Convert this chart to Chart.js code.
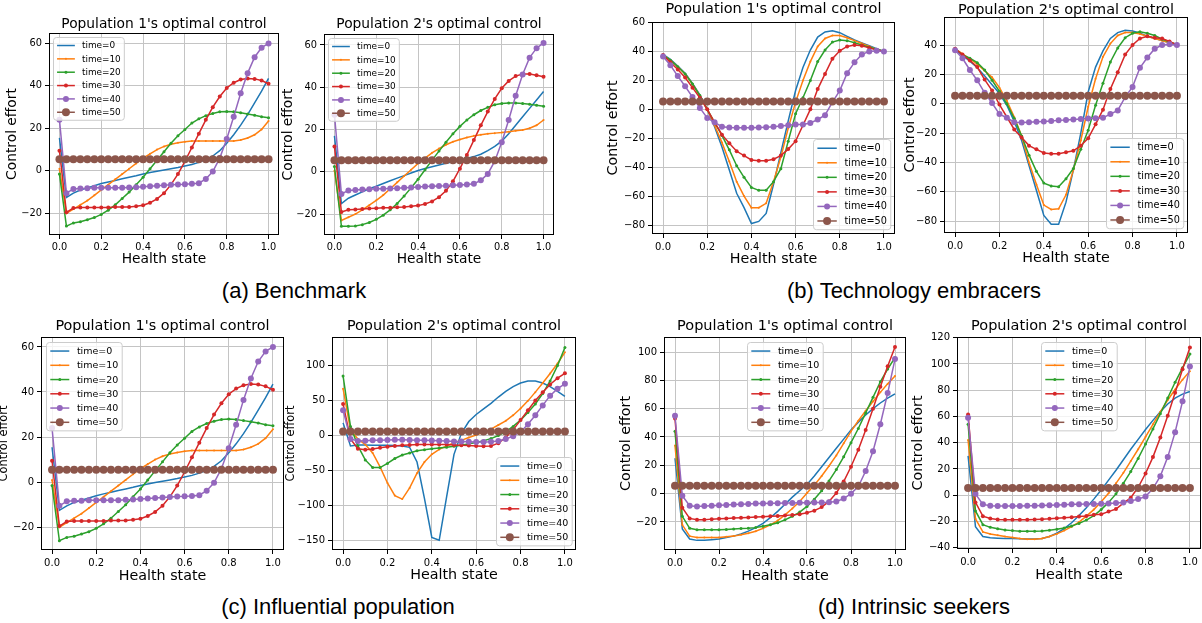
<!DOCTYPE html>
<html>
<head>
<meta charset="utf-8">
<script src="https://cdn.jsdelivr.net/npm/chart.js@4.4.1/dist/chart.umd.min.js"></script>
<style>
  html, body { margin: 0; padding: 0; background: #fff; width: 1202px; height: 623px; overflow: hidden; }
  canvas { position: absolute; }
  .cap { position: absolute; font-family: "Liberation Sans", Arial, sans-serif; font-size: 22px; color: #000;
         white-space: nowrap; transform: translate(-50%, -50%); }
</style>
</head>
<body>
<div class="cap" style="left:294px; top:291px">(a) Benchmark</div>
<div class="cap" style="left:914px; top:291px">(b) Technology embracers</div>
<div class="cap" style="left:338px; top:607px">(c) Influential population</div>
<div class="cap" style="left:914px; top:607px">(d) Intrinsic seekers</div>
<script>
// health state grid (x axis), 31 points
const healthStates = [0, 0.0333, 0.0667, 0.1, 0.1333, 0.1667, 0.2, 0.2333, 0.2667, 0.3, 0.3333,
  0.3667, 0.4, 0.4333, 0.4667, 0.5, 0.5333, 0.5667, 0.6, 0.6333, 0.6667, 0.7, 0.7333, 0.7667,
  0.8, 0.8333, 0.8667, 0.9, 0.9333, 0.9667, 1.0];
const timeLabels = ['time=0', 'time=10', 'time=20', 'time=30', 'time=40', 'time=50'];
const xTicks = [0, 0.2, 0.4, 0.6, 0.8, 1.0];

// time=50 is flat in every panel
const time50 = [5.5, 5.5, 5.5, 5.5, 5.5, 5.5, 5.5, 5.5, 5.5, 5.5, 5.5, 5.5, 5.5, 5.5, 5.5, 5.5,
  5.5, 5.5, 5.5, 5.5, 5.5, 5.5, 5.5, 5.5, 5.5, 5.5, 5.5, 5.5, 5.5, 5.5, 5.5];

// (a) Benchmark, population 1  (rows: time=0,10,20,30,40)
const benchP1 = [
  [15.5, -12.5, -10.5, -9, -8, -7, -6, -5.2, -4.5, -3.7, -3, -2.3, -1.5, -0.8, -0.2, 0.4, 1, 1.6, 2.3, 3, 4, 5.3, 7, 9.5, 13, 17, 21.5, 26.5, 32, 37.5, 43.5],
  [1, -20, -18, -16, -14, -11.5, -9, -6.5, -4, -1.5, 1, 3.5, 6, 8, 10, 11.5, 12.5, 13.2, 13.7, 14, 14, 14, 14, 14, 14, 14, 14.5, 15.5, 17, 19.5, 23.5],
  [-1.5, -26, -24.5, -24, -23, -22, -20.5, -18.5, -16, -13, -10, -6.5, -3, 1, 5, 9, 13, 16.5, 19.5, 22.5, 24.5, 26, 27, 27.8, 28, 27.8, 27.3, 26.8, 26.2, 25.5, 25],
  [9.5, -19.5, -17.5, -17.2, -17.2, -17.2, -17.2, -17.2, -17, -17, -17, -16.7, -16.2, -15, -13.2, -10.5, -6.5, -1.5, 4.5, 11, 17.5, 24, 30, 35, 39, 41.5, 43, 43.5, 43.3, 42.5, 41],
  [24, -10.5, -8.5, -8.3, -8.2, -8, -8, -8, -8, -8, -7.8, -7.7, -7.5, -7.3, -7, -6.8, -6.6, -6.4, -6.3, -6.1, -5.8, -3.8, -0.3, 6, 15, 25.5, 36.5, 46, 53.5, 58, 60]
];
// (a) Benchmark, population 2
const benchP2 = [
  [17, -15, -12.5, -11, -9.5, -8, -6.8, -5.5, -4.2, -3, -1.8, -0.6, 0.6, 1.6, 2.4, 3.2, 4, 4.7, 5.5, 6.3, 7.2, 8.3, 10, 12, 14.5, 18, 22, 26, 30, 34, 38],
  [0.5, -23, -21.5, -20, -18, -15.8, -13.5, -11, -8, -5, -2, 1, 4, 6.5, 9, 11, 12.8, 14.2, 15.3, 16.2, 17, 17.5, 18, 18.3, 18.6, 19, 19.4, 19.8, 20.6, 22, 24.5],
  [2.5, -25.8, -25.8, -25.6, -25, -24, -22.5, -20.5, -18, -15, -11.5, -7.5, -3.5, 1, 5.5, 9.8, 14, 18, 21.5, 24.5, 27, 29, 30.5, 31.7, 32.3, 32.6, 32.6, 32.3, 32, 31.5, 31],
  [12, -19, -18, -17.8, -17.6, -17.4, -17.2, -17, -17, -16.8, -16.6, -16.3, -16, -15.2, -14, -12, -9, -4.5, 1.5, 8, 15, 22, 28.5, 34.5, 39.5, 43, 45.3, 46.3, 46.3, 45.7, 45],
  [27, -10.5, -8.8, -8.6, -8.4, -8.2, -8, -8, -7.9, -7.8, -7.6, -7.4, -7.2, -7, -6.8, -6.7, -6.6, -6.4, -6.2, -6, -5.7, -4, -1, 5, 14, 24.5, 36, 46, 54, 58.5, 61]
];
// (b) Technology embracers, population 1
const techP1 = [
  [38, 34.5, 30, 25, 18, 10, 0, -12, -26, -42, -58, -68, -79, -77.5, -72, -52, -30, -8, 13, 29, 41, 50, 53.5, 54.3, 53, 50.5, 48, 46, 44, 42, 40],
  [37.5, 34, 29.5, 24.5, 17.5, 9.5, 0, -11, -23, -36, -50, -60, -68, -68, -65, -50, -33, -13, 5, 20, 33, 43.5, 49, 51, 51, 49.5, 47.5, 45.5, 43.5, 41.5, 40],
  [37.5, 34, 29.5, 24.5, 17.5, 9.5, 0, -9, -18, -28, -39, -47, -54, -56, -56, -50, -41, -22, -3, 8, 20, 33, 41, 46.5, 48, 47.5, 46, 44.5, 43, 41.5, 40],
  [37.5, 32.5, 27.5, 22, 15, 8, 0, -9, -17.5, -23.5, -29, -32, -35, -35.5, -35.5, -34.5, -32, -27.5, -22, -11, 0, 14, 24.5, 35, 40.5, 43.5, 44.5, 44, 42.5, 41, 40],
  [36.5, 30.5, 23, 16, 8.5, 1, -6, -9, -12, -12.5, -12.7, -12.7, -12.7, -12.5, -12.3, -12, -11.5, -11, -10.5, -10.5, -9.5, -7, -4, 5, 13, 25, 32.5, 38, 40, 40.5, 40]
];
// (b) Technology embracers, population 2
const techP2 = [
  [37, 33, 29, 24.5, 19, 13, 7, -1, -12, -25, -42, -59, -76, -82, -82, -67, -45, -20, 8, 25, 36, 44.5, 48.5, 50, 49.5, 48, 46, 44.5, 43, 41.5, 40],
  [37.5, 34, 30.5, 27, 22.5, 18, 11, 2, -9, -22, -40, -55, -69, -72, -71.5, -62, -45, -25, -2, 17, 32, 41, 46.5, 48.5, 48.5, 47.5, 46, 44.5, 43, 41.5, 40.5],
  [37.5, 33.5, 31, 28, 23, 16, 8.5, 0, -10, -22, -35, -46, -54, -56, -56.5, -51, -44, -31, -18, -1, 14, 28.5, 38, 45, 48, 49, 48, 46.5, 44, 42, 40.5],
  [37.5, 33.5, 29.5, 25, 16.5, 9, -0.5, -9, -17.5, -23, -28.5, -31, -33.5, -34, -34, -33, -32, -28.5, -23.5, -14, -4, 10, 21.5, 33.5, 40, 44.5, 46, 45, 44.5, 42.5, 40],
  [36.5, 31, 23, 16, 7.5, 0.5, -7, -9.5, -12.5, -12.7, -12.5, -12.3, -12, -11.7, -11.3, -11, -10.7, -10.4, -10, -9.8, -9.5, -7, -4.5, 4.5, 11.5, 24.5, 31.5, 37.5, 40, 40.5, 40]
];
// (c) Influential population: population 1 is the same as the benchmark
const inflP1 = benchP1;
const inflP2 = [
  [18, -15, -13.5, -13.5, -14, -14, -14, -14.5, -15, -17, -38, -90, -146, -150, -88, -27, 3, 20, 30, 38, 46, 55, 63, 70, 75, 78, 78, 75, 70, 63, 56],
  [67, 8, -5, -13, -25, -45, -68, -86, -91, -75, -54, -38, -27, -20, -15, -10.5, -7, -3, 0.5, 4.8, 9, 15, 21, 29, 38.5, 49.5, 62, 75, 88.6, 103, 119],
  [85, 13, -15, -35, -46, -46, -40, -33, -28, -25, -22, -20.5, -19, -18, -17, -15.5, -14, -12, -10, -7.5, -4.5, 0, 5.5, 13, 22, 33, 45, 60, 78, 100, 126],
  [45, -5, -19, -20.5, -19.5, -17.5, -16, -15, -14, -13.5, -13, -13, -13, -13, -13, -13.5, -14, -14.5, -15, -15.5, -15, -11, -3, 8, 22, 36, 50, 62, 73, 82, 89],
  [36, -5, -8, -7.5, -7, -6.8, -6.5, -6.3, -6.3, -6.5, -6.7, -7, -7.3, -7.7, -8, -8.5, -8.8, -9, -9.3, -9.5, -9, -8, -5, -1, 5, 16, 29, 43, 57, 67, 74]
];
// (d) Intrinsic seekers
const intrP1 = [
  [25, -25, -32, -33, -33, -32.5, -32, -31, -30, -28.5, -26.5, -24, -21, -17, -12.5, -7.5, -2.5, 2, 6.5, 12.5, 19, 25.5, 32, 38.5, 45, 50.5, 55.5, 60, 64, 67.5, 70.5],
  [34, -22, -30, -31, -31, -31, -31, -30.5, -30, -29, -28, -26.5, -24.5, -22, -19, -15, -10.5, -5.5, 0.5, 6, 12.5, 19.5, 27, 35.5, 44, 51.5, 58.5, 65, 71.5, 77.5, 83],
  [44, -16, -24.5, -25.5, -25.5, -25.5, -25.5, -25.3, -25, -24.7, -24.5, -24, -23, -22, -20.5, -18.5, -16, -13, -9, -4, 2, 9, 17, 26, 36, 46, 57, 68, 79, 88, 96],
  [53, -10, -17.5, -18.5, -18.5, -18, -17.7, -17.5, -17.2, -17, -16.8, -16.5, -16.3, -16, -15.8, -15.5, -15, -14.5, -13.5, -12, -9.5, -5.5, 0.5, 8.5, 19, 31, 45, 60, 75.5, 90, 103.5],
  [55, -1.5, -8.5, -9, -8.8, -8.5, -8.2, -8, -7.7, -7.5, -7.3, -7, -7, -6.8, -6.8, -6.7, -6.6, -6.5, -6.4, -6.3, -6.2, -6, -5.5, -3.5, 0, 5, 16, 30, 49, 71, 95]
];
const intrP2 = [
  [30, -24, -31.5, -32.5, -32.8, -33, -33, -33.2, -33.3, -33.3, -33, -31.5, -29, -25.5, -21, -15.5, -9.5, -3, 4, 11.5, 19, 27, 35, 42.5, 50, 57, 63.5, 69.5, 74, 77, 79],
  [42, -18, -28, -29.5, -30.5, -31.5, -32.3, -33, -33.5, -33.5, -33, -31.5, -29.5, -27, -24, -20.5, -16, -11, -5, 1.5, 9, 17, 26, 35, 44.5, 54, 63.5, 72.5, 80.5, 88, 94.5],
  [54, -12, -22.5, -24.5, -25.5, -26.5, -27, -27.5, -27.5, -27.5, -27.3, -26.8, -26, -25, -23.5, -21.5, -19, -15.5, -11, -5.5, 1, 9, 18, 28, 39, 50.5, 62, 74, 86, 97, 107.5],
  [61.5, -5.5, -16, -17.8, -18.5, -18.7, -18.8, -18.8, -18.7, -18.5, -18.3, -18, -17.5, -17.2, -16.8, -16.3, -15.8, -15, -14.5, -12.5, -10.5, -6, -2, 6, 16.5, 29, 44, 60.5, 78, 96, 112.5],
  [59, 1, -7, -8, -8.3, -8.3, -8.3, -8.2, -8, -8, -7.8, -7.6, -7.4, -7.2, -7, -7, -6.8, -6.7, -6.5, -6.3, -6, -5.5, -4.5, -3, -1, 5, 14.5, 29, 48, 71.5, 98]
];

// y tick labels per panel
const yTicksBench = [-20, 0, 20, 40, 60];
const yTicksTech1 = [-80, -60, -40, -20, 0, 20, 40, 60];
const yTicksTech2 = [-80, -60, -40, -20, 0, 20, 40];
const yTicksInfl2 = [-150, -100, -50, 0, 50, 100];
const yTicksIntr1 = [-20, 0, 20, 40, 60, 80, 100];
const yTicksIntr2 = [-40, -20, 0, 20, 40, 60, 80, 100, 120];

const colors = ['#1f77b4', '#ff7f0e', '#2ca02c', '#d62728', '#9467bd', '#8c564b'];
const markerR = [0, 1, 1.5, 2, 3, 4];

// layout: plot rect [left, top, right, bottom] in page px, text anchors in page px
const fsA = { title: 13.8, xlab: 13.8, ylab: 13.8, tick: 9.8, legend: 8.9 };
const fsB = { title: 14.5, xlab: 14.3, ylab: 14.3, tick: 10, legend: 9.7 };
const fsC = { title: 14.4, xlab: 14.3, ylab: 11.4, tick: 10, legend: 9.5 };
const fsD = { title: 14.5, xlab: 14.3, ylab: 14.3, tick: 10, legend: 9.5 };
const panels = [
  { title: "Population 1's optimal control", rows: benchP1, yr: [-30.2, 64.9], yt: yTicksBench,
    plot: [49, 33, 279, 235], titleY: 24.3, xlabY: 259.3, ylabX: 12.7, leg: 'ul', fs: fsA },
  { title: "Population 2's optimal control", rows: benchP2, yr: [-29.9, 65.2], yt: yTicksBench,
    plot: [324, 34, 554, 235], titleY: 24, xlabY: 259.3, ylabX: 288.3, leg: 'ul', fs: fsA },
  { title: "Population 1's optimal control", rows: techP1, yr: [-86.2, 60.4], yt: yTicksTech1,
    plot: [652, 22, 895, 234], titleY: 9.3, xlabY: 259.3, ylabX: 613.3, leg: 'lr', fs: fsB },
  { title: "Population 2's optimal control", rows: techP2, yr: [-88, 59.1], yt: yTicksTech2,
    plot: [944, 17, 1188, 233], titleY: 10, xlabY: 258.3, ylabX: 910, leg: 'lr', fs: fsB },
  { title: "Population 1's optimal control", rows: inflP1, yr: [-30.1, 64.4], yt: yTicksBench,
    plot: [41, 337, 284, 550], titleY: 326, xlabY: 576.7, ylabX: 4.5, leg: 'ul', fs: fsC },
  { title: "Population 2's optimal control", rows: inflP2, yr: [-163.9, 140.9], yt: yTicksInfl2,
    plot: [332, 337, 576, 550], titleY: 326, xlabY: 575, ylabX: 291, leg: 'lr', fs: fsC },
  { title: "Population 1's optimal control", rows: intrP1, yr: [-39.8, 110.6], yt: yTicksIntr1,
    plot: [664, 337, 906, 550], titleY: 326.7, xlabY: 576.7, ylabX: 626.7, leg: 'uc', fs: fsD },
  { title: "Population 2's optimal control", rows: intrP2, yr: [-41, 120.5], yt: yTicksIntr2,
    plot: [957, 337, 1201, 549], titleY: 326.7, xlabY: 575.7, ylabX: 918.3, leg: 'uc', fs: fsD }
];

const FONT = '"DejaVu Sans", sans-serif';

const decor = {
  id: 'decor',
  afterDatasetsDraw(chart, args, o) {
    const ctx = chart.ctx, a = chart.chartArea;
    ctx.save();
    // axes frame
    ctx.strokeStyle = '#000';
    ctx.lineWidth = 1;
    ctx.strokeRect(a.left + 0.5, a.top + 0.5, a.right - a.left - 1, a.bottom - a.top - 1);
    // legend
    const f = o.fs.legend;
    ctx.font = f + 'px ' + FONT;
    const tw = Math.max(...timeLabels.map(t => ctx.measureText(t).width));
    const bw = 3.6 * f + tw, bh = 9.3 * f, gap = 0.5 * f;
    let bx, by;
    if (o.leg === 'ul') { bx = a.left + gap; by = a.top + gap; }
    else if (o.leg === 'lr') { bx = a.right - gap - bw; by = a.bottom - gap - bh; }
    else { bx = (a.left + a.right) / 2 - bw / 2; by = a.top + gap; }
    bx = Math.round(bx) + 0.5; by = Math.round(by) + 0.5;
    ctx.beginPath();
    ctx.roundRect(bx, by, bw, bh, 3);
    ctx.fillStyle = 'rgba(255,255,255,0.8)';
    ctx.fill();
    ctx.strokeStyle = '#cccccc';
    ctx.stroke();
    ctx.textBaseline = 'middle';
    ctx.textAlign = 'left';
    timeLabels.forEach((t, i) => {
      const cy = by + 0.4 * f + i * 1.5 * f + 0.5 * f;
      ctx.strokeStyle = colors[i];
      ctx.lineWidth = 1.5;
      ctx.beginPath();
      ctx.moveTo(bx + 0.4 * f, cy);
      ctx.lineTo(bx + 2.4 * f, cy);
      ctx.stroke();
      if (markerR[i] > 0) {
        ctx.fillStyle = colors[i];
        ctx.beginPath();
        ctx.arc(bx + 1.4 * f, cy, markerR[i], 0, Math.PI * 2);
        ctx.fill();
      }
      ctx.fillStyle = '#000';
      ctx.fillText(t, bx + 3.2 * f, cy + 0.5);
    });
    ctx.restore();
  },
  afterDraw(chart, args, o) {
    const ctx = chart.ctx, a = chart.chartArea;
    const cx = (a.left + a.right) / 2, cy = (a.top + a.bottom) / 2;
    ctx.save();
    ctx.fillStyle = '#000';
    ctx.textAlign = 'center';
    ctx.textBaseline = 'middle';
    ctx.font = o.fs.title + 'px ' + FONT;
    ctx.fillText(o.title, cx, o.titleY - o.oy);
    ctx.font = o.fs.xlab + 'px ' + FONT;
    ctx.fillText('Health state', cx, o.xlabY - o.oy);
    ctx.font = o.fs.ylab + 'px ' + FONT;
    ctx.translate(o.ylabX - o.ox, cy);
    ctx.rotate(-Math.PI / 2);
    ctx.fillText('Control effort', 0, 0);
    ctx.restore();
  }
};

const padL = 56, padT = 30, padR = 8, padB = 44;
const fmt = v => (v < 0 ? '\u2212' : '') + Math.abs(v);

panels.forEach(p => {
  const [L, T, R, B] = p.plot;
  const cv = document.createElement('canvas');
  cv.width = R - L + padL + padR;
  cv.height = B - T + padT + padB;
  const ox = L - padL, oy = T - padT;
  cv.style.left = ox + 'px';
  cv.style.top = oy + 'px';
  document.body.appendChild(cv);

  const datasets = timeLabels.map((lab, i) => {
    const ys = i < 5 ? p.rows[i] : time50;
    return {
      label: lab,
      data: ys.map((y, j) => ({ x: healthStates[j], y: y })),
      borderColor: colors[i],
      backgroundColor: colors[i],
      pointBackgroundColor: colors[i],
      borderWidth: 1.5,
      pointRadius: markerR[i],
      pointBorderWidth: 0,
      pointHoverRadius: 0,
      fill: false,
      order: 5 - i
    };
  });

  const gridOpts = { color: '#c4c4c4', lineWidth: 1, tickColor: '#000', tickLength: 4, tickWidth: 1 };
  new Chart(cv, {
    type: 'line',
    data: { datasets },
    options: {
      responsive: false,
      animation: false,
      devicePixelRatio: 1,
      events: [],
      layout: { padding: { left: 0, top: padT, right: padR, bottom: 0 } },
      plugins: {
        legend: { display: false },
        tooltip: { enabled: false },
        decor: { title: p.title, titleY: p.titleY, xlabY: p.xlabY, ylabX: p.ylabX,
                 leg: p.leg, fs: p.fs, ox: ox, oy: oy }
      },
      scales: {
        x: {
          type: 'linear', min: -0.05, max: 1.05,
          afterBuildTicks: s => { s.ticks = xTicks.map(v => ({ value: v })); },
          afterFit: s => { s.height = padB; },
          grid: gridOpts,
          border: { display: false },
          ticks: { color: '#000', padding: 3, maxRotation: 0, autoSkip: false,
                   font: { family: FONT, size: p.fs.tick }, callback: v => v.toFixed(1) }
        },
        y: {
          type: 'linear', min: p.yr[0], max: p.yr[1],
          afterBuildTicks: s => { s.ticks = p.yt.map(v => ({ value: v })); },
          afterFit: s => { s.width = padL; },
          grid: gridOpts,
          border: { display: false },
          ticks: { color: '#000', padding: 3, autoSkip: false,
                   font: { family: FONT, size: p.fs.tick }, callback: v => fmt(v) }
        }
      }
    },
    plugins: [decor]
  });
});
</script>
</body>
</html>
